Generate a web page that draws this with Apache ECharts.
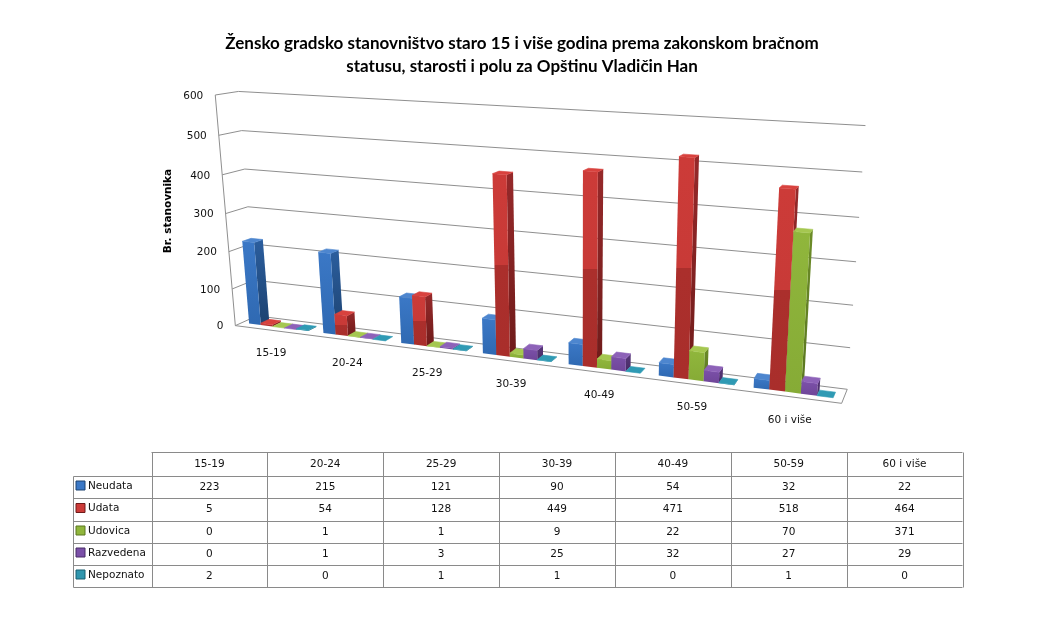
<!DOCTYPE html>
<html><head><meta charset="utf-8">
<style>html,body{margin:0;padding:0;background:#fff}#c{width:1037px;height:639px}</style>
<script src="https://cdn.jsdelivr.net/npm/echarts@6/dist/echarts.min.js"></script>
</head><body><div id="c"></div>
<script>
const categories = ['15-19','20-24','25-29','30-39','40-49','50-59','60 i više'];
const neudata   = [223,215,121,90,54,32,22];
const udata     = [5,54,128,449,471,518,464];
const udovica   = [0,1,1,9,22,70,371];
const razvedena = [0,1,3,25,32,27,29];
const nepoznato = [2,0,1,1,0,1,0];
const valueTicks = [0,100,200,300,400,500,600];
const seriesNames = ['Neudata','Udata','Udovica','Razvedena','Nepoznato'];
const seriesValues = [neudata,udata,udovica,razvedena,nepoznato];
const titleText = 'Žensko gradsko stanovništvo staro 15 i više godina prema zakonskom bračnom\nstatusu, starosti i polu za Opštinu Vladičin Han';
const axisTitle = 'Br. stanovnika';

// Camera calibration: [u along categories, d depth, h height] -> screen point of the 3D box frame
const frame = [
 [0,0,0,232.7,325],[0,0,1/6,231,288.3],[0,0,2/6,228.3,251.7],[0,0,3/6,225.7,213.3],[0,0,4/6,222.7,175],[0,0,5/6,220.7,136],[0,0,1,216.7,95.7],
 [0,1,0,260,317],[0,1,1/6,255,281],[0,1,2/6,251.7,243],[0,1,3/6,246.7,206.7],[0,1,4/6,243.3,169],[0,1,5/6,240.7,130],[0,1,1,237.3,91],
 [1,1,0,846.7,389.3],[1,1,1/6,850,348],[1,1,2/6,852.7,305],[1,1,3/6,856,261.7],[1,1,4/6,859.3,217.3],[1,1,5/6,862.3,172],[1,1,1,865.7,125.7],
 [1,0,0,842.3,403.3]
];
function solveCamera(pts){
  const rows=[];
  pts.forEach(([u,d,h,x,y])=>{
    rows.push([u,d,h,1,0,0,0,0,-x*u,-x*d,-x*h,x]);
    rows.push([0,0,0,0,u,d,h,1,-y*u,-y*d,-y*h,y]);
  });
  const n=11,A=[];
  for(let i=0;i<n;i++){A.push(new Array(n+1).fill(0));
    for(let j=0;j<=n;j++) rows.forEach(r=>{A[i][j]+=r[i]*r[j];});}
  for(let c=0;c<n;c++){
    let p=c;for(let r=c+1;r<n;r++) if(Math.abs(A[r][c])>Math.abs(A[p][c])) p=r;
    [A[c],A[p]]=[A[p],A[c]];
    for(let r=0;r<n;r++){ if(r===c) continue; const f=A[r][c]/A[c][c];
      for(let j=c;j<=n;j++) A[r][j]-=f*A[c][j]; }
  }
  return A.map((r,i)=>r[n]/r[i]);
}
const P=solveCamera(frame);
function project(u,d,h){
  const w=P[8]*u+P[9]*d+P[10]*h+1;
  return [(P[0]*u+P[1]*d+P[2]*h+P[3])/w,(P[4]*u+P[5]*d+P[6]*h+P[7])/w];
}
// hidden value grid: the library's scales feed the projection
const G={left:200,top:100,width:700,height:300};
const U=x=>(x-G.left)/G.width;
const H=y=>(G.top+G.height-y)/G.height;
const BAR_NEAR=0.3,BAR_FAR=0.7,GROUP_START=-0.4,BAR_W=0.16;

const palette=[
 {top:'#4d86cf',front:[[0,'#3b78c6'],[1,'#2f69b2']],side:[[0,'#2b5e9e'],[1,'#1d4270']]},
 {top:'#d8423e',front:[[0,'#cc3b38'],[0.5,'#c83a37'],[0.5,'#ab2f2c'],[1,'#a92e2b']],side:[[0,'#96292a'],[1,'#6f1b1a']]},
 {top:'#a5c750',front:[[0,'#90b63c'],[1,'#86ab36']],side:[[0,'#6c8c28'],[1,'#5a7620']]},
 {top:'#8d62b8',front:[[0,'#7b50a8'],[1,'#6f4699']],side:[[0,'#573679'],[1,'#482c66']]},
 {top:'#2f9ab4',front:[[0,'#2f96ae'],[1,'#26839a']],side:[[0,'#1f7487'],[1,'#195f70']]}
];
const grad=s=>new echarts.graphic.LinearGradient(0,0,0,1,s.map(([offset,color])=>({offset,color})));
const poly=(points,fill,z2)=>({type:'polygon',shape:{points},z2:z2||0,silent:true,
  style:{fill,stroke:typeof fill==='string'?fill:null,lineWidth:typeof fill==='string'?0.6:0,lineJoin:'round'}});

function barRender(si){
  return function(params,api){
    const cat=api.value(0),val=api.value(1);
    const c0=api.coord([cat,0]),c1=api.coord([cat,val]);
    const band=api.size([1,0])[0];
    const u0=U(c0[0]+(GROUP_START+si*BAR_W)*band),u1=U(c0[0]+(GROUP_START+(si+1)*BAR_W)*band);
    const h=H(c1[1]);
    const a=[u0,BAR_NEAR],b=[u1,BAR_NEAR],c=[u1,BAR_FAR],e=[u0,BAR_FAR];
    const p=(q,z)=>project(q[0],q[1],z);
    const col=palette[si],children=[];
    if(val>0){
      children.push(poly([p(b,0),p(c,0),p(c,h),p(b,h)],grad(col.side),1));
      children.push(poly([p(a,0),p(b,0),p(b,h),p(a,h)],grad(col.front),2));
    }
    children.push(poly([p(a,h),p(b,h),p(c,h),p(e,h)],col.top,3));
    return {type:'group',children};
  };
}
const line=(a,b,color,w)=>({type:'line',silent:true,shape:{x1:a[0],y1:a[1],x2:b[0],y2:b[1]},style:{stroke:color,lineWidth:w||1}});
const GRID='#8f8f8f', FONT='"DejaVu Sans",sans-serif';

function wallRender(params,api){
  const v=api.value(0),h=H(api.coord([0,v])[1]);
  const kids=[line(project(0,0,h),project(0,1,h),GRID),line(project(0,1,h),project(1,1,h),GRID)];
  if(v===0){
    kids.push(line(project(0,0,0),project(1,0,0),GRID),line(project(1,0,0),project(1,1,0),GRID));
    kids.push(line(project(0,0,0),project(0,0,H(api.coord([0,600])[1])),GRID));
  }
  const t=project(0,0,h);
  kids.push({type:'text',silent:true,style:{x:t[0]-12,y:t[1]+1,text:String(v),align:'right',verticalAlign:'middle',fill:'#111',font:'10.5px '+FONT}});
  return {type:'group',children:kids};
}
function catLabelRender(params,api){
  const cat=api.value(0),c=api.coord([cat,0]);
  const t=project(U(c[0]),0,0);
  return {type:'text',silent:true,style:{x:t[0]-1,y:t[1]+23,text:categories[cat],align:'center',verticalAlign:'middle',fill:'#111',font:'10.5px '+FONT}};
}
const base={type:'custom',silent:true,animation:false,coordinateSystem:'cartesian2d',clip:false};
const series=[
 Object.assign({},base,{name:'wall',z:1,renderItem:wallRender,data:valueTicks.map(v=>[v]),encode:{y:0}}),
 Object.assign({},base,{name:'categories',z:1,renderItem:catLabelRender,data:categories.map((c,i)=>[i]),encode:{x:0}})
];
seriesNames.forEach((name,si)=>{
  series.push(Object.assign({},base,{name,z:5+si,renderItem:barRender(si),
    data:seriesValues[si].map((v,i)=>[i,v]),encode:{x:0,y:1}}));
});

// data table
const T={x0:73.5,x1:151.5,right:962.5,yHead:452.5,yRows:[476.5,498.5,521.5,543.5,565.5,587.5]};
const TL='#8a8a8a';
const colW=(T.right-T.x1)/categories.length;
const gfx=[];
const hl=(x1,x2,y)=>gfx.push({type:'line',silent:true,shape:{x1,y1:y,x2,y2:y},style:{stroke:TL,lineWidth:1}});
const vl=(x,y1,y2)=>gfx.push({type:'line',silent:true,shape:{x1:x,y1,x2:x,y2},style:{stroke:TL,lineWidth:1}});
const txt=(x,y,text,align)=>gfx.push({type:'text',silent:true,style:{x,y,text,align,verticalAlign:'middle',fill:'#111',font:'10.5px '+FONT}});
hl(T.x1,T.right,T.yHead);
T.yRows.forEach(y=>hl(T.x0,T.right,y));
vl(T.x0,T.yRows[0],T.yRows[5]);
for(let i=0;i<=categories.length;i++) vl(Math.round(T.x1+i*colW)+0.5,T.yHead,T.yRows[5]);
categories.forEach((c,i)=>txt(T.x1+(i+.5)*colW,464,c,'center'));
seriesNames.forEach((n,si)=>{
  const yc=(T.yRows[si]+T.yRows[si+1])/2;
  gfx.push({type:'rect',silent:true,shape:{x:76,y:yc-6.5,width:9,height:9},
    style:{fill:palette[si].front[0][1],stroke:palette[si].side[1][1],lineWidth:1}});
  txt(88,yc-1.5,n,'left');
  seriesValues[si].forEach((v,i)=>txt(T.x1+(i+.5)*colW,yc-0.5,String(v),'center'));
});
gfx.push({type:'text',silent:true,rotation:Math.PI/2,x:168,y:211,
  style:{x:0,y:0,text:axisTitle,align:'center',verticalAlign:'middle',fill:'#000',font:'bold 10.5px '+FONT}});

const chart=echarts.init(document.getElementById('c'),null,{renderer:'canvas'});
chart.setOption({
  animation:false,backgroundColor:'#fff',
  title:{text:titleText,left:517,top:27,textAlign:'center',
    textStyle:{fontFamily:'Lato',fontWeight:'bold',fontSize:17,lineHeight:23,color:'#000'}},
  grid:Object.assign({},G,{show:false}),
  xAxis:{type:'category',data:categories,show:false},
  yAxis:{type:'value',min:0,max:600,interval:100,show:false},
  graphic:gfx,
  series
});
</script></body></html>
